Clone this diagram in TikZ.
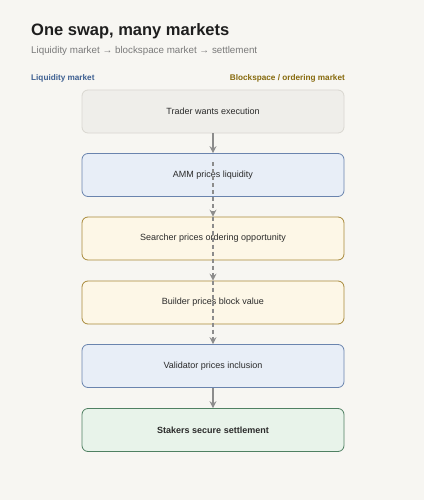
\documentclass[tikz,border=0pt]{standalone}
\usepackage{fontspec}
\setmainfont{Liberation Sans}
\usetikzlibrary{arrows.meta}
\definecolor{bg}{HTML}{F7F6F2}
\definecolor{titlec}{HTML}{1E1E1E}
\definecolor{inkc}{HTML}{2B2B2B}
\definecolor{subc}{HTML}{7A7A7A}
\definecolor{edgec}{HTML}{8C8C8C}
\definecolor{liqc}{HTML}{3D5F91}
\definecolor{blkc}{HTML}{86690C}
\definecolor{startfill}{HTML}{EFEEEA}
\definecolor{startline}{HTML}{D9D7D1}
\definecolor{liqfill}{HTML}{E8EEF7}
\definecolor{liqline}{HTML}{6A84AE}
\definecolor{blkfill}{HTML}{FDF7E7}
\definecolor{blkline}{HTML}{A8893A}
\definecolor{setfill}{HTML}{E8F3EA}
\definecolor{setline}{HTML}{4F8062}
\tikzset{
  stage/.style={draw,rounded corners=6pt,line width=.8pt,minimum width=262pt,minimum height=43pt,
    font=\fontsize{9}{11}\selectfont,text=inkc},
  startbox/.style={stage,fill=startfill,draw=startline},
  liqbox/.style={stage,fill=liqfill,draw=liqline},
  blkbox/.style={stage,fill=blkfill,draw=blkline},
  setbox/.style={stage,fill=setfill,draw=setline},
  heading/.style={inner sep=0pt,anchor=base west},
  flow/.style={draw=edgec,line width=1.1pt,-{Stealth[length=7pt,width=7pt,inset=2.5pt]}},
  hop/.style={flow,dash pattern=on 4pt off 3pt}
}
\begin{document}
\begin{tikzpicture}[x=1pt,y=-1pt]
\fill[bg] (0,0) rectangle (424,500);
\useasboundingbox (0,0) rectangle (424,500);
% heading
\node[heading,font=\fontsize{16.5}{20}\bfseries\selectfont,text=titlec] (title) at (31,36) {One swap, many markets};
\node[heading,font=\fontsize{9.8}{12}\selectfont,text=subc] (sub) at (31,53.5) {Liquidity market → blockspace market → settlement};
\node[heading,font=\fontsize{8.2}{10}\bfseries\selectfont,text=liqc] (liq) at (31,81) {Liquidity market};
\node[heading,anchor=base east,font=\fontsize{8.2}{10}\bfseries\selectfont,text=blkc] (blk) at (345,81) {Blockspace / ordering market};
% stages
\foreach \n/\y/\s/\t in {
  trader/111.5/startbox/Trader wants execution,
  amm/175/liqbox/AMM prices liquidity,
  searcher/238.5/blkbox/Searcher prices ordering opportunity,
  builder/302.5/blkbox/Builder prices block value,
  validator/366/liqbox/Validator prices inclusion,
  stakers/430/setbox/\textbf{Stakers secure settlement}}
  \node[\s] (\n) at (213,\y) {\t};
\coordinate (ammin) at (213,162);
% arrows
\draw[flow] (trader) -- (amm);
\draw[hop] (ammin) -- (searcher.north);
\draw[hop] (searcher.north) -- (builder.north);
\draw[hop] (builder.north) -- (validator.north);
\draw[flow] (validator) -- (stakers);
\end{tikzpicture}
\end{document}
